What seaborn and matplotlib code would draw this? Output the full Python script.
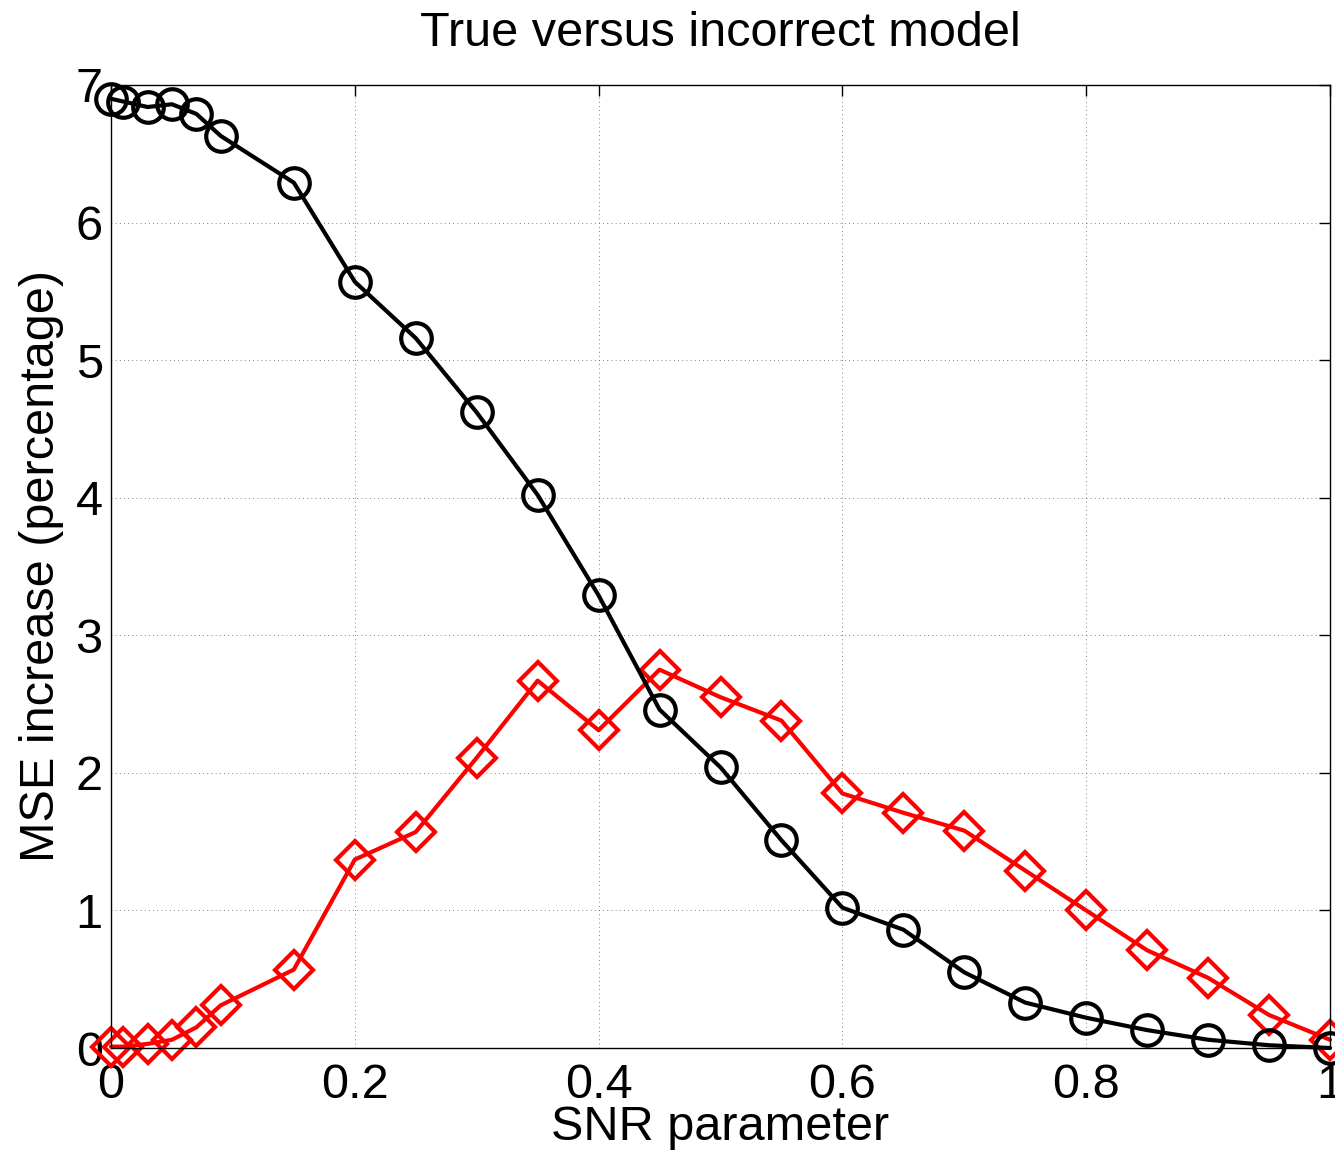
import numpy as np
import pandas as pd
import matplotlib
matplotlib.use("Agg")
import matplotlib.pyplot as plt
import seaborn as sns

snr = [0.0, 0.01, 0.03, 0.05, 0.07, 0.09, 0.15, 0.2, 0.25, 0.3, 0.35, 0.4, 0.45,
       0.5, 0.55, 0.6, 0.65, 0.7, 0.75, 0.8, 0.85, 0.9, 0.95, 1.0]
true_model = [6.90, 6.88, 6.84, 6.86, 6.79, 6.63, 6.29, 5.57, 5.16, 4.62, 4.02, 3.29,
              2.46, 2.04, 1.51, 1.02, 0.86, 0.55, 0.33, 0.22, 0.13, 0.06, 0.02, 0.0]
incorrect_model = [0.01, 0.01, 0.03, 0.06, 0.15, 0.31, 0.57, 1.37, 1.57, 2.11, 2.67, 2.31,
                   2.75, 2.55, 2.38, 1.85, 1.71, 1.58, 1.29, 1.00, 0.71, 0.51, 0.24, 0.06]
x_ticks = [0, 0.2, 0.4, 0.6, 0.8, 1.0]
x_ticklabels = ["0", "0.2", "0.4", "0.6", "0.8", "1"]
y_ticks = [0, 1, 2, 3, 4, 5, 6, 7]

sns.set_style("white")
plt.rcParams['font.family'] = ['Liberation Sans', 'DejaVu Sans']
plt.rcParams['text.color'] = 'black'
plt.rcParams['axes.labelcolor'] = 'black'

fig = plt.figure(figsize=(13.35, 11.61), dpi=100)
ax = fig.add_axes([111/1335, 1 - 1048/1161, (1330-111)/1335, (1048-85)/1161])

df = pd.DataFrame({"snr": snr, "true": true_model, "incorrect": incorrect_model})

sns.lineplot(data=df, x="snr", y="incorrect", ax=ax, color="red", linewidth=3.0,
             marker="D", markersize=19, markerfacecolor="none",
             markeredgecolor="red", markeredgewidth=3.0)
sns.lineplot(data=df, x="snr", y="true", ax=ax, color="black", linewidth=3.0,
             marker="o", markersize=22, markerfacecolor="none",
             markeredgecolor="black", markeredgewidth=3.0)
for ln in ax.lines:
    ln.set_clip_on(False)

ax.set_xlim(0, 1)
ax.set_ylim(0, 7)
ax.set_xticks(x_ticks)
ax.set_xticklabels(x_ticklabels)
ax.set_yticks(y_ticks)
ax.grid(True, color="#555555", linestyle=(0, (1, 4)), linewidth=0.6)
ax.tick_params(direction="in", length=8, width=1, labelsize=35, colors="black",
               top=True, right=True, pad=6)
ax.tick_params(axis="x", pad=11)
for s in ax.spines.values():
    s.set_visible(True)
    s.set_color("black")
    s.set_linewidth(1.0)
ax.set_xlabel("SNR parameter", fontsize=35, labelpad=-2, color="black")
ax.set_ylabel("MSE increase (percentage)", fontsize=35, labelpad=8, color="black")
ax.set_title("True versus incorrect model", fontsize=35, pad=28, color="black")

fig.savefig("out.png", dpi=100)
